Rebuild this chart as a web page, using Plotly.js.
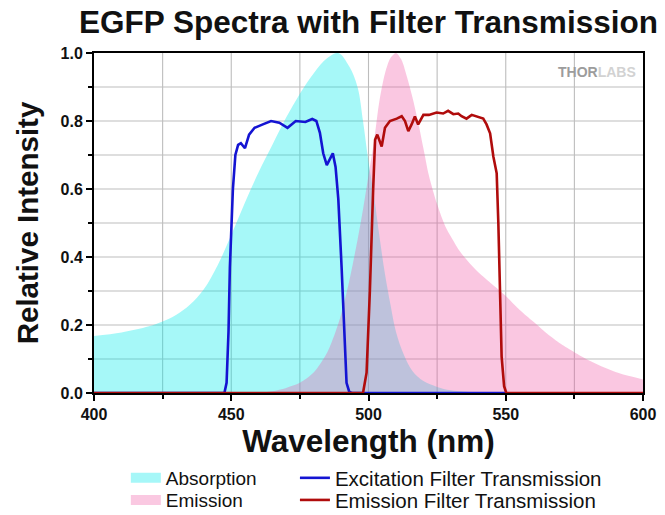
<!DOCTYPE html>
<html>
<head>
<meta charset="utf-8">
<script src="https://cdn.plot.ly/plotly-3.0.1.min.js"></script>
<style>html,body{margin:0;padding:0;background:#fff;}#chart{width:665px;height:515px;}</style>
</head>
<body>
<div id="chart"></div>
<script>
// Absorption spectrum (nm, relative)
const absWl  = [400,410,420,425,430,435,440,445,450,455,460,465,470,475,480,485,489,493,496,498,500,502,504,506,508,510,513,516,520,525,530,540,550,600];
const absVal = [0.168,0.178,0.196,0.21,0.23,0.26,0.305,0.375,0.465,0.56,0.65,0.73,0.81,0.88,0.94,0.985,1.0,0.96,0.9,0.8,0.68,0.58,0.46,0.35,0.26,0.18,0.11,0.065,0.035,0.018,0.008,0.002,0,0];

// Emission spectrum
const emWl  = [460,465,470,475,480,485,488,490,493,496,498,500,502,504,506,508,510,512,514,516,518,520,522,525,528,530,533,537,540,545,548,550,555,560,565,570,575,580,585,590,595,600];
const emVal = [0,0.005,0.015,0.03,0.06,0.12,0.18,0.23,0.33,0.45,0.54,0.64,0.74,0.86,0.94,0.985,1.0,0.98,0.93,0.87,0.80,0.72,0.64,0.555,0.49,0.46,0.42,0.38,0.355,0.32,0.30,0.285,0.245,0.21,0.175,0.145,0.12,0.097,0.078,0.062,0.05,0.04];

// Excitation filter transmission
const exWl  = [400,447.5,448.3,449,449.5,450.6,451.5,452.5,453.5,455,456.5,458.5,461.5,464.5,467.5,470.5,473.5,477,479.5,481,482.3,483.5,484.8,486,487,488,489,490.2,491.1,492,493,494,550];
const exVal = [0,0,0.03,0.18,0.37,0.6,0.7,0.73,0.735,0.72,0.76,0.78,0.79,0.8,0.795,0.78,0.8,0.797,0.806,0.8,0.765,0.705,0.67,0.69,0.705,0.665,0.57,0.37,0.18,0.03,0.003,0,0];

// Emission filter transmission
const efWl  = [400,498,499.3,500.5,501.7,502.4,503.2,504.8,506,507.8,510.3,512.1,513.3,514.5,515.7,516.9,518.1,520,522,524.8,527.2,529,530.9,532.7,533.9,535.7,537.6,540,541.8,543,544.3,545.5,546.7,547.3,547.9,548.5,549.4,550.2,600];
const efVal = [0,0,0.06,0.3,0.6,0.745,0.76,0.725,0.78,0.80,0.807,0.814,0.80,0.77,0.79,0.813,0.79,0.818,0.818,0.825,0.822,0.83,0.82,0.822,0.814,0.807,0.818,0.813,0.807,0.79,0.764,0.695,0.646,0.5,0.3,0.107,0.02,0,0];

const seriesNames = ['Absorption','Emission','Excitation Filter Transmission','Emission Filter Transmission'];

const cyanFill = 'rgba(0,234,236,0.35)';
const pinkFill = 'rgba(240,86,163,0.33)';
const blueLine = '#1414d2';
const redLine = '#b00c0c';
const gridCol = '#bdbdbd';

// grid lines at every minor tick (25 nm, 0.1), built from the axis ranges
const xRange = [400, 600], xMinor = 25;
const yRange = [0, 1], yMinor = 0.1;
const gx = [], gy = [];
for (let v = xRange[0] + xMinor; v < xRange[1] - 1e-9; v += xMinor) {
  gx.push(v, v, null); gy.push(yRange[0], yRange[1], null);
}
for (let i = 1; i * yMinor < yRange[1] - 1e-9; i++) {
  const v = i * yMinor;
  gx.push(xRange[0], xRange[1], null); gy.push(v, v, null);
}

const traces = [
  {x: gx, y: gy, type:'scatter', mode:'lines', line:{width:1.1, color:gridCol}, connectgaps:false,
   showlegend:false, hoverinfo:'skip', cliponaxis:true},
  {x: absWl, y: absVal, type:'scatter', mode:'lines', fill:'tozeroy', fillcolor:cyanFill,
   line:{width:0, color:cyanFill, shape:'spline', smoothing:1}, showlegend:false, hoverinfo:'skip'},
  {x: emWl, y: emVal, type:'scatter', mode:'lines', fill:'tozeroy', fillcolor:pinkFill,
   line:{width:0, color:pinkFill, shape:'spline', smoothing:0.8}, showlegend:false, hoverinfo:'skip'},
  {x: exWl, y: exVal, type:'scatter', mode:'lines', name:seriesNames[2], legend:'legend3',
   line:{width:2.6, color:blueLine}},
  {x: efWl, y: efVal, type:'scatter', mode:'lines', name:seriesNames[3], legend:'legend4',
   line:{width:2.6, color:redLine}},
  // legend swatches for the filled spectra
  {x:[null], y:[null], type:'scatter', mode:'lines', name:seriesNames[0], legend:'legend',
   line:{width:17, color:'rgb(166,247,248)'}},
  {x:[null], y:[null], type:'scatter', mode:'lines', name:seriesNames[1], legend:'legend2',
   line:{width:17, color:'rgb(250,200,225)'}}
];

const fam = 'Liberation Sans, Arial, sans-serif';
const tickFont = {family:fam, size:16, color:'#111', weight:'bold'};

function leg(x, y, size) {
  return {x:x, y:y, xanchor:'left', yanchor:'middle', xref:'paper', yref:'paper',
          bgcolor:'rgba(0,0,0,0)', borderwidth:0, font:{family:fam, size:size, color:'#111'}};
}

const layout = {
  width:665, height:515,
  margin:{l:94, r:22, t:53, b:122, autoexpand:false},
  paper_bgcolor:'#fff', plot_bgcolor:'#fff',
  title:{text:'EGFP Spectra with Filter Transmission', font:{family:fam, size:31.5, color:'#111', weight:'bold'},
         x:0.5, xref:'paper', xanchor:'center', y:0.958, yref:'container', yanchor:'middle'},
  xaxis:{range:xRange, dtick:50, tick0:400, ticks:'outside', ticklen:6, tickwidth:2, tickcolor:'#000',
         showline:true, linecolor:'#000', linewidth:2, mirror:true,
         showgrid:false, zeroline:false,
         minor:{dtick:xMinor, ticks:'outside', ticklen:4, tickwidth:2, tickcolor:'#000', showgrid:false},
         tickfont:tickFont,
         title:{text:'Wavelength (nm)', font:{family:fam, size:31.5, color:'#111', weight:'bold'}, standoff:8}},
  yaxis:{range:yRange, dtick:0.2, tick0:0, tickformat:'.1f', ticks:'outside', ticklen:6, tickwidth:2, tickcolor:'#000',
         showline:true, linecolor:'#000', linewidth:2, mirror:true,
         showgrid:false, zeroline:false,
         minor:{dtick:yMinor, ticks:'outside', ticklen:4, tickwidth:2, tickcolor:'#000', showgrid:false},
         tickfont:tickFont,
         title:{text:'Relative Intensity', font:{family:fam, size:29.5, color:'#111', weight:'bold'}, standoff:13}},
  legend:  leg(0.058, -0.25, 19),
  legend2: leg(0.058, -0.315, 19),
  legend3: leg(0.366, -0.25, 20.5),
  legend4: leg(0.366, -0.315, 20.5),
  annotations:[
    {text:'<b>THOR</b><span style="color:#d2d2d2">LABS</span>', xref:'paper', yref:'paper', x:0.99, y:0.975,
     xanchor:'right', yanchor:'top', showarrow:false,
     font:{family:fam, size:14, color:'#9c9c9c', weight:'bold'}}
  ],
  showlegend:true
};

Plotly.newPlot('chart', traces, layout, {displayModeBar:false});
</script>
</body>
</html>
